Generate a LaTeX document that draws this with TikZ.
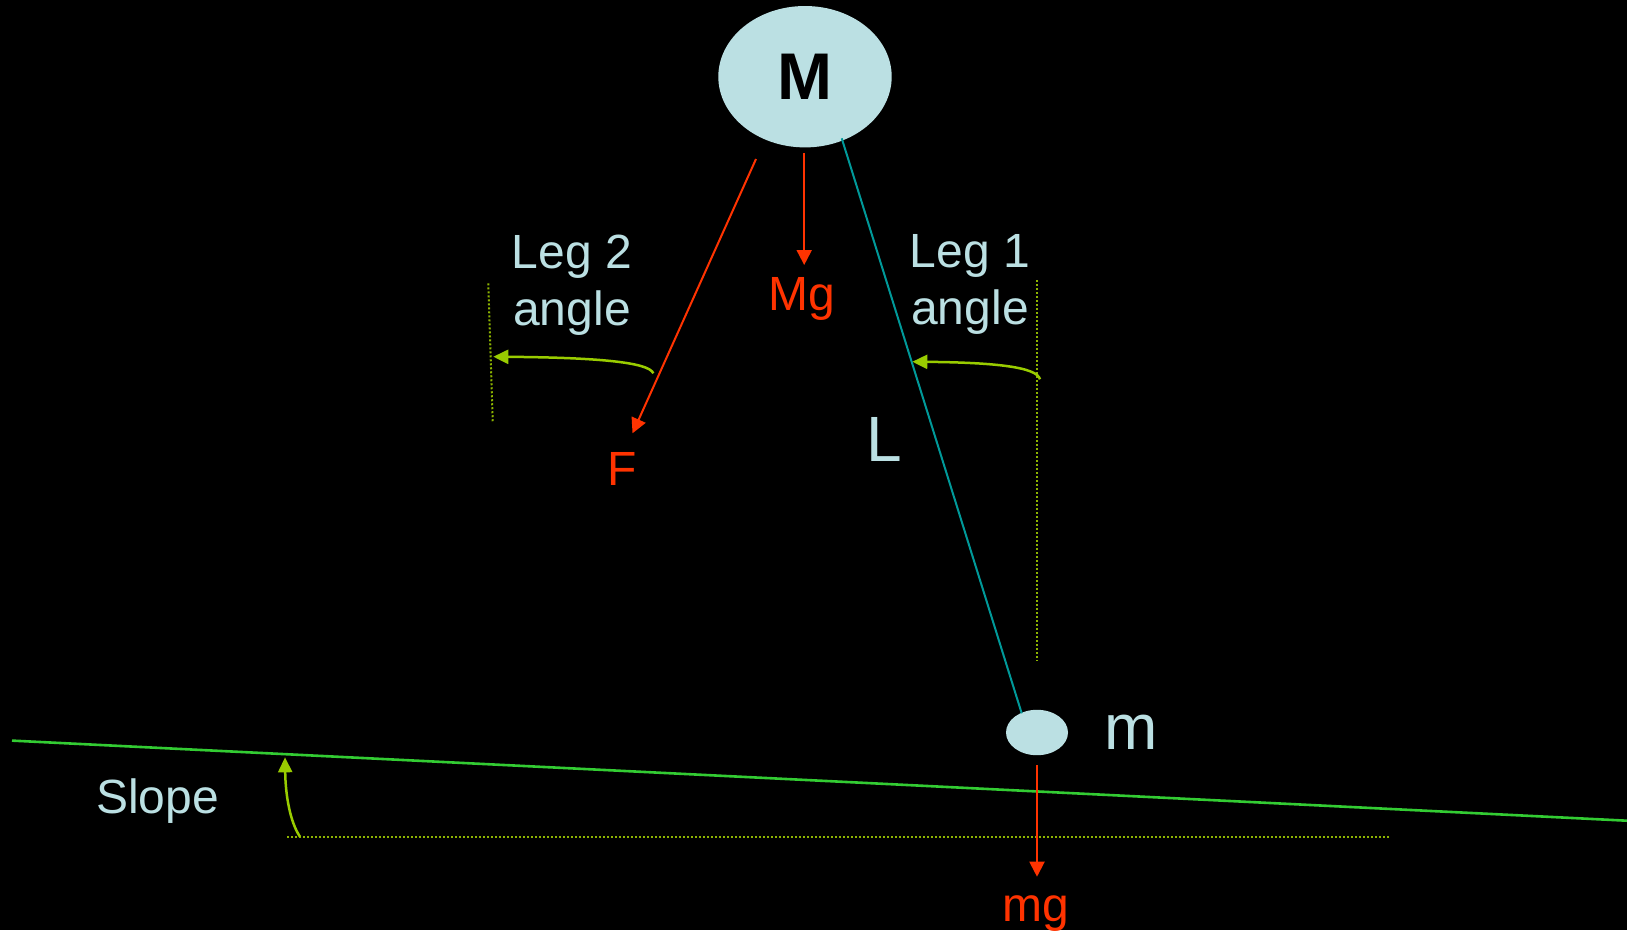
\documentclass[tikz,border=0pt]{standalone}
\usepackage{fontspec}
\setmainfont{Liberation Sans}
\usetikzlibrary{arrows.meta,shapes.geometric}
\definecolor{lblue}{HTML}{BBE0E3}
\definecolor{fred}{HTML}{FF3300}
\definecolor{teal2}{HTML}{009999}
\definecolor{slopegreen}{HTML}{33CC33}
\definecolor{arcgreen}{HTML}{99CC00}
\definecolor{dotgreen}{HTML}{8DB400}
\tikzset{
  mass/.style={ellipse, fill=lblue, draw=none, inner sep=0pt},
  lbl/.style={text=lblue, inner sep=0pt, font=\fontsize{48}{57}\selectfont, align=center},
  biglbl/.style={text=lblue, inner sep=0pt, font=\fontsize{64}{70}\selectfont},
  forcelbl/.style={text=fred, inner sep=0pt, font=\fontsize{48}{57}\selectfont},
  force/.style={draw=fred, line width=2pt, -{Triangle[length=15pt,width=15pt]}},
  rope/.style={draw=teal2, line width=2pt},
  ground/.style={draw=slopegreen, line width=2.6pt},
  angarrow/.style={draw=arcgreen, line width=2.5pt, -{Triangle[length=15pt,width=14pt]}},
  refline/.style={draw=dotgreen, line width=2pt, dash pattern=on 2pt off 2pt}
}
\begin{document}
\begin{tikzpicture}[x=1pt,y=-1pt]
\fill[black] (0,0) rectangle (1627,930);
\useasboundingbox (0,0) rectangle (1627,930);

% masses
\node[mass, minimum width=173.4pt, minimum height=141.4pt,
      font=\fontsize{66}{70}\selectfont\bfseries, text=black] (M) at (805,76.7) {M};
\node[mass, minimum width=62pt, minimum height=45.4pt] (m) at (1037,732.5) {};

% labels
\node[lbl, anchor=north] (leg2) at (572,234.6) {Leg 2\\angle};
\node[lbl, anchor=north] (leg1) at (970,234.6) {Leg 1\\angle};
\node[lbl, anchor=base] (slope) at (157.5,813) {Slope};
\node[biglbl, anchor=base] (Llbl) at (884,461) {L};
\node[biglbl, anchor=base] (mlbl) at (1131,749) {m};
\node[forcelbl, anchor=base] (Flbl) at (622,485) {F};
\node[forcelbl, anchor=base] (Mglbl) at (801.5,310) {Mg};
\node[forcelbl, anchor=base] (mglbl) at (1035.5,921.7) {mg};

% connector end points
\coordinate (Fs) at (756,159);
\coordinate (Fe) at (632.5,433.3);
\coordinate (Mgs) at (804.2,153);
\coordinate (Mge) at (804.2,265);
\coordinate (Lt) at (841.7,138.3);
\coordinate (Lb) at (1021.7,713.3);
\coordinate (mgs) at (1037,765);
\coordinate (mge) at (1037,876.7);
\coordinate (g1) at (12,740.6);
\coordinate (g2) at (1627,820.7);
\coordinate (h1) at (287,836.7);
\coordinate (h2) at (1389,836.7);
\coordinate (sa) at (300,836.7);
\coordinate (sb) at (285,757.3);
\coordinate (v1a) at (1036.7,280);
\coordinate (v1b) at (1036.7,661);
\coordinate (a1s) at (1040,379.3);
\coordinate (a1e) at (912.3,361.7);
\coordinate (v2a) at (488.3,283.3);
\coordinate (v2b) at (492.7,421.7);
\coordinate (a2s) at (653.3,373.3);
\coordinate (a2e) at (493.3,356.7);

% reference lines
\draw[refline] (h1) -- (h2);
\draw[refline] (v1a) -- (v1b);
\draw[refline] (v2a) -- (v2b);

% ground
\draw[ground] (g1) -- (g2);

% rope
\draw[rope] (Lt) -- (Lb);

% forces
\draw[force] (Fs) -- (Fe);
\draw[force] (Mgs) -- (Mge);
\draw[force] (mgs) -- (mge);

% angle arrows
\draw[angarrow] (sa) .. controls (290,822) and (285.5,795) .. (sb);
\draw[angarrow] (a1s) .. controls (1037,367) and (995,362.5) .. (a1e);
\draw[angarrow] (a2s) .. controls (649,362) and (595,357.5) .. (a2e);
\end{tikzpicture}
\end{document}
